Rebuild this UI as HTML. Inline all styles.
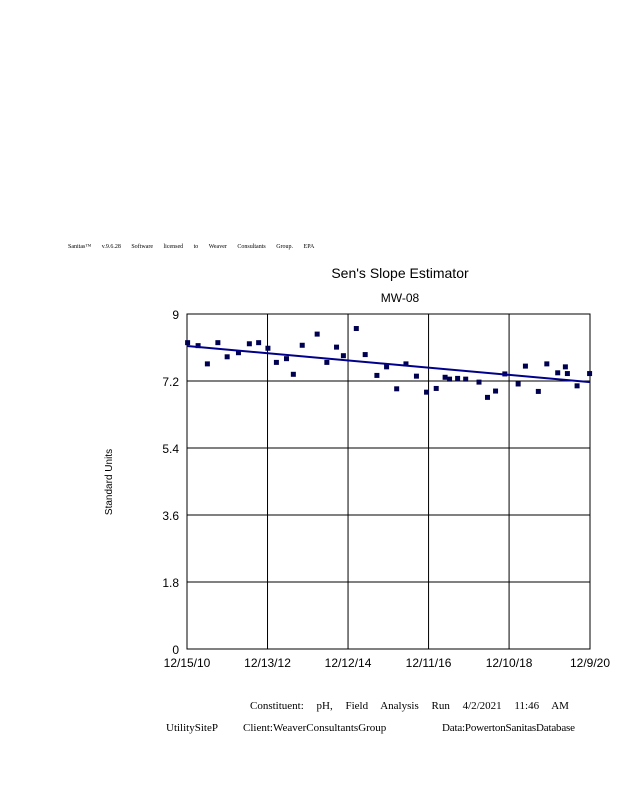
<!DOCTYPE html>
<html><head><meta charset="utf-8"><style>
body{margin:0;background:#fff;width:618px;height:800px;overflow:hidden}
svg{display:block}
text{font-family:"Liberation Sans",sans-serif;fill:#000}
.ser{font-family:"Liberation Serif",serif}
</style></head><body>
<svg id="c" width="618" height="800">
<text class="ser" x="68" y="248" font-size="6" style="word-spacing:9px">Sanitas™ v.9.6.28 Software licensed to Weaver Consultants Group. EPA</text>
<text x="400" y="278" font-size="14" text-anchor="middle">Sen's Slope Estimator</text>
<text x="400" y="302" font-size="12" text-anchor="middle">MW-08</text>
<text x="112" y="482" font-size="10" text-anchor="middle" transform="rotate(-90 112 482)">Standard Units</text>
<g id="grid"></g><g id="pts"></g><g id="trend"></g>
<text class="ser" x="250" y="709" font-size="11" style="word-spacing:10px">Constituent: pH, Field Analysis Run 4/2/2021 11:46 AM</text>
<text class="ser" x="166" y="731" font-size="11">UtilitySiteP</text>
<text class="ser" x="243" y="731" font-size="11">Client:WeaverConsultantsGroup</text>
<text class="ser" x="442" y="731" font-size="11" textLength="133">Data:PowertonSanitasDatabase</text>
</svg>
<script>
const yTicks=[0,1.8,3.6,5.4,7.2,9];
const yTickLabels=["0","1.8","3.6","5.4","7.2","9"];
const xTicks=[2010.955,2012.95,2014.945,2016.94,2018.935,2020.94];
const xTickLabels=["12/15/10","12/13/12","12/12/14","12/11/16","12/10/18","12/9/20"];
const dates=[2010.97,2011.23,2011.46,2011.72,2011.95,2012.23,2012.50,2012.73,2012.96,2013.17,2013.42,2013.59,2013.81,2014.18,2014.42,2014.66,2014.83,2015.15,2015.37,2015.66,2015.90,2016.15,2016.38,2016.64,2016.89,2017.13,2017.35,2017.46,2017.66,2017.86,2018.19,2018.40,2018.60,2018.83,2019.16,2019.34,2019.66,2019.87,2020.14,2020.33,2020.38,2020.62,2020.93];
const values=[8.23,8.15,7.66,8.23,7.85,7.96,8.20,8.23,8.08,7.70,7.80,7.38,8.16,8.46,7.70,8.11,7.88,8.61,7.91,7.35,7.58,6.99,7.66,7.33,6.90,7.00,7.30,7.25,7.27,7.25,7.17,6.76,6.93,7.39,7.12,7.60,6.92,7.66,7.42,7.58,7.40,7.07,7.40];
const trendDates=[2010.955,2020.94];
const trendValues=[8.14,7.17];
const X0=187,X1=590,Y0=649,Y1=314,xMin=2010.955,xMax=2020.94,yMax=9;
const xs=d=>X0+(d-xMin)/(xMax-xMin)*(X1-X0);
const ys=v=>Y0-v/yMax*(Y0-Y1);
const NS="http://www.w3.org/2000/svg";
function mk(t,a,p){const e=document.createElementNS(NS,t);for(const k in a)e.setAttribute(k,a[k]);p.appendChild(e);return e;}
const g=document.getElementById('grid');
const frame=mk('rect',{x:X0,y:Y1,width:X1-X0,height:Y0-Y1,fill:'none',stroke:'#000','stroke-width':1},g);


yTicks.forEach((v,i)=>{
 const l=mk('line',{x1:X0,x2:X1,y1:ys(v),y2:ys(v),stroke:'#000','stroke-width':1},g);
 
 
 const t=mk('text',{x:X0-8,y:ys(v)+5,'font-size':12,'text-anchor':'end'},g);t.textContent=yTickLabels[i];
 
 
});
xTicks.forEach((d,i)=>{
 const l=mk('line',{x1:xs(d),x2:xs(d),y1:Y1,y2:Y0,stroke:'#000','stroke-width':1},g);
 
 
 const t=mk('text',{x:xs(d),y:667,'font-size':12,'text-anchor':'middle'},g);t.textContent=xTickLabels[i];
 
 
});
const p=document.getElementById('pts');
dates.forEach((d,i)=>{
 const r=mk('rect',{x:xs(d)-2.5,y:ys(values[i])-2.5,width:5,height:5,fill:'#000050'},p);
 
 
});
const tr=mk('line',{x1:xs(trendDates[0]),y1:ys(trendValues[0]),x2:xs(trendDates[1]),y2:ys(trendValues[1]),stroke:'#00008b','stroke-width':2},document.getElementById('trend'));


</script>
</body></html>
